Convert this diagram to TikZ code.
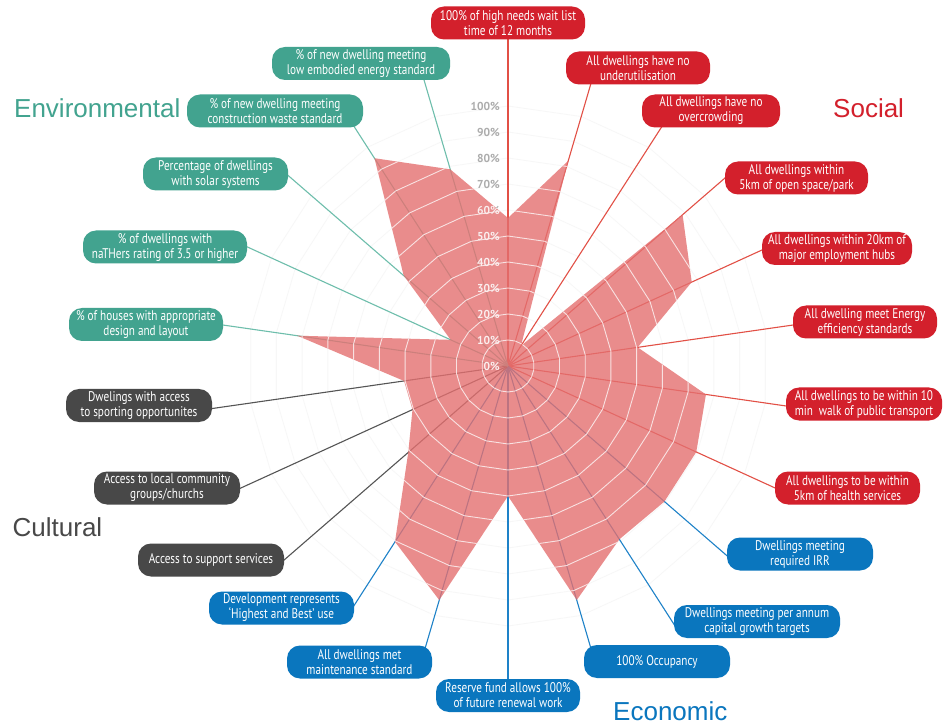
\documentclass[tikz,border=0pt]{standalone}
\usepackage{fontspec}
\setmainfont{Liberation Sans}
\newfontfamily\boxfont[FakeStretch=0.8]{PT Sans}
\newfontfamily\pctfont{PT Sans}
\usetikzlibrary{calc}

\definecolor{socred}{RGB}{211,32,44}
\definecolor{ecoblue}{RGB}{10,118,190}
\definecolor{culgray}{RGB}{72,72,72}
\definecolor{envteal}{RGB}{66,163,143}
\definecolor{socline}{RGB}{226,80,70}
\definecolor{ecoline}{RGB}{30,130,200}
\definecolor{culline}{RGB}{85,85,85}
\definecolor{envline}{RGB}{110,190,172}
\definecolor{webfill}{RGB}{228,112,112}
\definecolor{pctgray}{RGB}{172,172,172}

\tikzset{
  box/.style={rounded corners=13pt, text=white, align=center, inner sep=0pt,
    minimum height=33, font=\boxfont\fontsize{14}{15}\selectfont},
  spoke/.style={line width=1.1pt},
  pct/.style={anchor=east, inner sep=0pt, text=pctgray,
    font=\pctfont\bfseries\fontsize{11.5}{11.5}\selectfont},
  title/.style={anchor=base west, inner sep=0pt, font=\fontsize{26}{26}\selectfont},
}

\begin{document}
\begin{tikzpicture}[x=1pt,y=-1pt]
\useasboundingbox (0,0) rectangle (943,727);
\fill[white] (0,0) rectangle (943,727);

\coordinate (c) at (508,366);

% score of each indicator (radius, 26 per 10%)
\foreach \k/\r in {0/148,1/214,2/24,3/231,4/202,5/131,6/200,7/207,8/207,9/206,10/244,
                   11/130,12/244,13/209,14/132,15/105,16/105,17/213,18/63,19/138,20/247,21/205}
  \coordinate (v\k) at ($(c)+({\r*cos(90-\k*360/22)},{-\r*sin(90-\k*360/22)})$);

% end points of the spokes, tucked under the label boxes
\foreach \k/\R in {0/332,1/300,2/289,3/293,4/285,5/294,6/287,7/299,8/296,9/313,10/297,
                   11/319,12/297,13/291,14/302,15/301,16/305,17/294,18/293,19/297,20/290,21/303}
  \coordinate (e\k) at ($(c)+({\R*cos(90-\k*360/22)},{-\R*sin(90-\k*360/22)})$);

% faint web over the whole chart
\foreach \i in {1,...,10}
  \draw[black!3, line width=0.8pt] ($(c)+(0,{-26*\i})$)
    \foreach \k in {1,...,21} { -- ($(c)+({26*\i*cos(90-\k*360/22)},{-26*\i*sin(90-\k*360/22)})$) } -- cycle;

% spokes
\foreach \k in {0,...,7}   \draw[spoke, socline] (c) -- (e\k);
\foreach \k in {8,...,13}  \draw[spoke, ecoline] (c) -- (e\k);
\foreach \k in {14,15,16}  \draw[spoke, culline] (c) -- (e\k);
\foreach \k in {17,...,21} \draw[spoke, envline] (c) -- (e\k);

% scale
\foreach \i/\p in {0/0,1/10,2/20,3/30,4/40,5/50,6/60,7/70,8/80,9/90,10/100}
  \node[pct] (p\i) at (500,{366-26*\i}) {\p\%};

% score area
\fill[webfill, fill opacity=0.8] (v0) \foreach \k in {1,...,21} { -- (v\k) } -- cycle;

\begin{scope}
  \clip (v0) \foreach \k in {1,...,21} { -- (v\k) } -- cycle;
  \foreach \i in {1,...,10}
    \draw[white, opacity=0.75, line width=0.9pt] ($(c)+(0,{-26*\i})$)
      \foreach \k in {1,...,21} { -- ($(c)+({26*\i*cos(90-\k*360/22)},{-26*\i*sin(90-\k*360/22)})$) } -- cycle;
  \foreach \i/\p in {0/0,1/10,2/20,3/30,4/40,5/50,6/60,7/70,8/80,9/90,10/100}
    \node[pct, text=white!88!webfill] at (500,{366-26*\i}) {\p\%};
\end{scope}

% Social
\node[box, fill=socred, minimum width=154] (b0) at (508,23)   {100\% of high needs wait list\\time of 12 months};
\node[box, fill=socred, minimum width=144] (b1) at (638,68)   {All dwellings have no\\underutilisation};
\node[box, fill=socred, minimum width=138] (b2) at (711,111)  {All dwellings have no\\overcrowding};
\node[box, fill=socred, minimum width=143] (b3) at (796.5,178) {All dwellings within\\5km of open space/park};
\node[box, fill=socred, minimum width=150] (b4) at (837,248.5) {All dwellings within 20km of\\major employment hubs};
\node[box, fill=socred, minimum width=144] (b5) at (865,322)  {All dwelling meet Energy\\efficiency standards};
\node[box, fill=socred, minimum width=156] (b6) at (864,404)  {All dwellings to be within 10\\min\ \ walk of public transport};
\node[box, fill=socred, minimum width=145] (b7) at (847.5,488) {All dwellings to be within\\5km of health services};
% Economic
\node[box, fill=ecoblue, minimum width=146] (b8) at (800,554)   {Dwellings meeting\\required IRR};
\node[box, fill=ecoblue, minimum width=166] (b9) at (757,621.5) {Dwellings meeting per annum\\capital growth targets};
\node[box, fill=ecoblue, minimum width=146] (b10) at (657,661.5) {100\% Occupancy};
\node[box, fill=ecoblue, minimum width=144] (b11) at (508,695.5) {Reserve fund allows 100\%\\of future renewal work};
\node[box, fill=ecoblue, minimum width=145] (b12) at (359.5,662) {All dwellings met\\maintenance standard};
\node[box, fill=ecoblue, minimum width=145] (b13) at (281.5,608) {Development represents\\‘Highest and Best’ use};
% Cultural
\node[box, fill=culgray, minimum width=146] (b14) at (211,560)   {Access to support services};
\node[box, fill=culgray, minimum width=146] (b15) at (167,488)   {Access to local community\\groups/churchs};
\node[box, fill=culgray, minimum width=146] (b16) at (139,405.5) {Dwelings with access\\to sporting opportunites};
% Environmental
\node[box, fill=envteal, minimum width=154] (b17) at (146,324.5) {\% of houses with appropriate\\design and layout};
\node[box, fill=envteal, minimum width=164] (b18) at (165,247)   {\% of dwellings with\\naTHers rating of 3.5 or higher};
\node[box, fill=envteal, minimum width=145] (b19) at (215.5,174) {Percentage of dwellings\\with solar systems};
\node[box, fill=envteal, minimum width=176] (b20) at (275,111)   {\% of new dwelling meeting\\construction waste standard};
\node[box, fill=envteal, minimum width=178] (b21) at (361,63.5)  {\% of new dwelling meeting\\low embodied energy standard};

% category titles
\node[title, text=envteal] (tenv) at (14,118)  {Environmental};
\node[title, text=socred]  (tsoc) at (833,118) {Social};
\node[title, text=culgray] (tcul) at (12.5,536) {Cultural};
\node[title, text=ecoblue] (teco) at (613,720) {Economic};
\end{tikzpicture}
\end{document}
